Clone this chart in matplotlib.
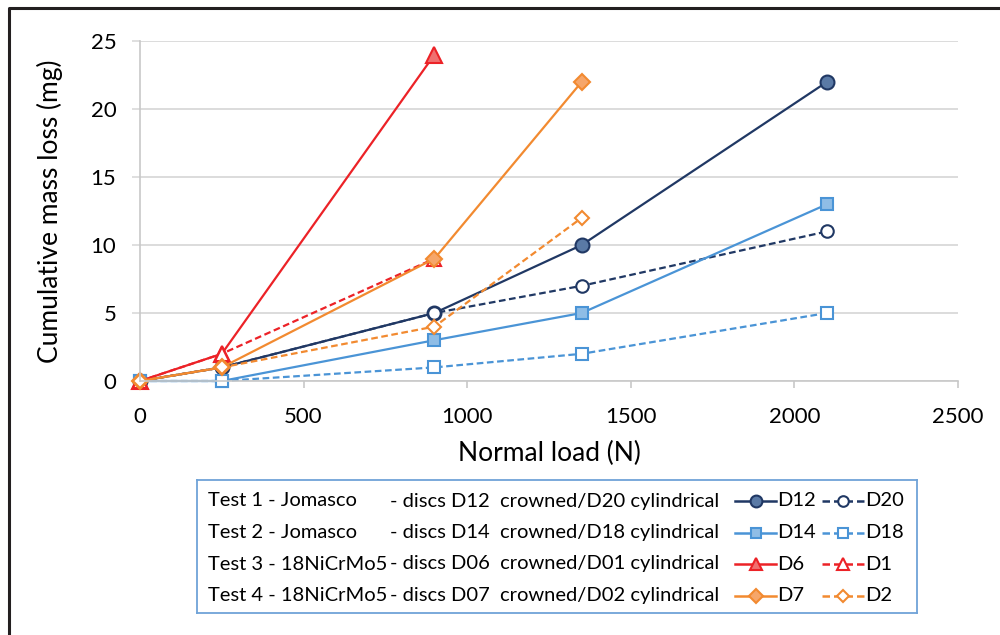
import matplotlib.pyplot as plt
from matplotlib.lines import Line2D

plt.rcParams['font.family'] = ['Lato', 'DejaVu Sans']

# data
loads = [0, 250, 900, 1350, 2100]
d12 = [0, 1, 5, 10, 22]
d20 = [0, 1, 5, 7, 11]
d14 = [0, 0, 3, 5, 13]
d18 = [0, 0, 1, 2, 5]
d6 = [0, 2, 24]
d1 = [0, 2, 9]
d7 = [0, 1, 9, 22]
d2 = [0, 1, 4, 12]

tests = ['Test 1 - Jomasco', 'Test 2 - Jomasco', 'Test 3 - 18NiCrMo5', 'Test 4 - 18NiCrMo5']
discs = ['- discs D12  crowned/D20 cylindrical', '- discs D14  crowned/D18 cylindrical',
         '- discs D06  crowned/D01 cylindrical', '- discs D07  crowned/D02 cylindrical']

navy, navy_fill = '#203864', '#5a7aa6'
blue, blue_fill = '#4a94d6', '#8fbde6'
red, red_fill = '#ec2227', '#f07070'
orange, orange_fill = '#f28a30', '#f6a66a'

# (name, y, colour, fill, marker, size, dashed)
series = [
    ('D12', d12, navy, navy_fill, 'o', 10, False),
    ('D20', d20, navy, 'white', 'o', 9, True),
    ('D14', d14, blue, blue_fill, 's', 9, False),
    ('D18', d18, blue, 'white', 's', 8, True),
    ('D6', d6, red, red_fill, '^', 11, False),
    ('D1', d1, red, 'white', '^', 10, True),
    ('D7', d7, orange, orange_fill, 'D', 8, False),
    ('D2', d2, orange, 'white', 'D', 7.5, True),
]

fig = plt.figure(figsize=(10, 6.35), dpi=100)
ax = fig.add_axes([0.14, 0.40, 0.818, 0.5354])

for name, y, c, fc, m, ms, dashed in series:
    ax.plot(loads[:len(y)], y, color=c, lw=1.6, ls=(0, (3, 1.6)) if dashed else '-',
            marker=m, ms=ms, mfc=fc, mec=c, mew=1.5, clip_on=False)

ax.set_xlim(0, 2500)
ax.set_ylim(0, 25)
ax.set_xticks(range(0, 2501, 500))
ax.set_yticks(range(0, 26, 5))
ax.grid(True, axis='y', color='#d9d9d9', lw=1.3)
ax.set_axisbelow(True)
for s in ['top', 'right']:
    ax.spines[s].set_visible(False)
for s in ['left', 'bottom']:
    ax.spines[s].set_color('#c8c8c8')
    ax.spines[s].set_linewidth(1.2)
ax.tick_params(axis='y', length=6, width=1.2, color='#d9d9d9', pad=11, labelsize=16)
ax.tick_params(axis='x', length=5, width=1.2, color='#c8c8c8', pad=14, labelsize=16)
ax.set_xlabel('Normal load (N)', fontsize=19, labelpad=10)
ax.set_ylabel('Cumulative mass loss (mg)', fontsize=19, labelpad=20)

# legend box drawn as its own small axes
lax = fig.add_axes([0.197, 1 - 613 / 635, 0.72, 133 / 635])
lax.set_xlim(0, 720)
lax.set_ylim(133, 0)
lax.set_xticks([])
lax.set_yticks([])
for s in lax.spines.values():
    s.set_color('#6fa3d8')
    s.set_linewidth(1.3)
for i in range(4):
    yy = 21 + i * 31.5
    lax.text(11, yy, tests[i], fontsize=14.5, va='center')
    lax.text(193, yy, discs[i], fontsize=14.5, va='center')
    for k, (x0, w) in enumerate([(538, 41), (625, 42)]):
        name, y, c, fc, m, ms, dashed = series[2 * i + k]
        lax.add_line(Line2D([x0, x0 + w], [yy, yy], color=c, lw=1.8,
                            ls=(0, (3, 1.6)) if dashed else '-'))
        lax.plot([x0 + w / 2], [yy], marker=m, ms=ms * 0.85, mfc=fc, mec=c, mew=1.5)
        lax.text(x0 + w + 1, yy, name, fontsize=14.5, va='center')

# outer frame (left and top edges visible)
fig.add_artist(Line2D([0.009, 0.009, 1.0], [0.0, 1 - 8 / 635, 1 - 8 / 635],
                      color='#231f20', lw=2.2, transform=fig.transFigure))

fig.savefig('out.png', dpi=100)
